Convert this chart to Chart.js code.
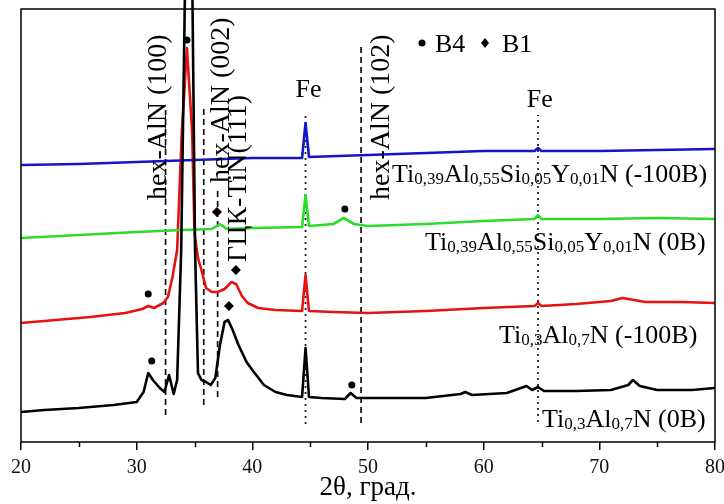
<!DOCTYPE html>
<html>
<head>
<meta charset="utf-8">
<script src="https://cdn.jsdelivr.net/npm/chart.js@4.4.1/dist/chart.umd.min.js"></script>
<style>
  html, body { margin: 0; background: #fff; }
</style>
</head>
<body>
<canvas id="xrd" width="724" height="504"></canvas>
<script>
// x ticks (2θ) and the y span (arbitrary intensity, traces are stacked)
const xTicks = [20, 30, 40, 50, 60, 70, 80];
const yMax = 433;

// Ti0,3Al0,7N (0B)
const blackX = [20, 22, 25, 28, 30, 30.6, 31.0, 31.4, 32.0, 32.4, 32.8, 33.2, 33.5, 33.85, 34.2, 34.8, 35.05, 35.3, 35.6, 36.0, 36.4, 36.8,
  37.2, 37.6, 37.9, 38.3, 38.8, 39.5, 40, 41, 42, 43, 44.3, 44.6, 44.9, 46, 48, 48.5, 49, 52, 55, 58, 58.4, 59, 62,
  63.7, 64.2, 64.7, 65.2, 68, 71, 72.5, 72.9, 73.5, 75, 78, 80];
const blackY = [30, 32, 34, 37, 40, 50, 69, 62, 54, 50, 67, 48, 62, 192, 470, 470, 192, 69, 62, 60, 57, 64,
  97, 120, 122, 112, 97, 80, 72, 57, 50, 47, 45, 94, 45, 44, 43, 49, 44, 44, 44, 48, 50, 47, 49,
  56, 52, 55, 51, 51, 52, 57, 62, 56, 52, 52, 54];

// Ti0,3Al0,7N (-100B)
const redX = [20, 23, 26, 29, 30.5, 31.0, 31.5, 32.3, 32.7, 33.1, 33.5, 33.9, 34.35, 34.8, 35.0, 35.3, 35.6, 36.0, 36.5, 37.0,
  37.6, 38.2, 38.6, 39.1, 39.6, 40.5, 42, 44.3, 44.6, 44.9, 47, 50, 55, 60, 64.4, 64.7, 65.0, 68, 71, 72, 74, 77, 80];
const redY = [119, 122, 125, 129, 133, 136, 134, 139, 145, 165, 192, 309, 394, 309, 209, 184, 172, 154, 150, 150,
  153, 160, 158, 146, 139, 134, 132, 131, 167, 131, 130, 129, 131, 134, 136, 139, 136, 138, 141, 144, 140, 140, 139];

// Ti0,39Al0,55Si0,05Y0,01N (0B)
const greenX = [20, 25, 30, 34, 36.5, 37.2, 37.8, 40, 44.3, 44.6, 44.9, 47, 47.9, 48.8, 50, 55, 60, 64.4, 64.7, 65.0, 70, 75, 80];
const greenY = [204, 207, 210, 212, 213, 218, 213, 214, 215, 247, 216, 218, 224, 218, 216, 218, 221, 223, 227, 223, 223, 224, 223];

// Ti0,39Al0,55Si0,05Y0,01N (-100B)
const blueX = [20, 25, 30, 35, 40, 44.3, 44.6, 44.9, 50, 55, 60, 64.4, 64.7, 65.0, 70, 75, 80];
const blueY = [277, 278, 280, 282, 284, 284, 319, 285, 287, 289, 291, 291, 294, 291, 291, 292, 293];

// phase markers: B4 (circle) and B1 (diamond)
const b4X = [34.35, 31.3, 31.0, 48.0, 48.6];
const b4Y = [402, 81, 148, 233, 57];
const b1X = [37.98, 38.58, 36.94];
const b1Y = [136, 172, 230];

// reference lines: dashed (AlN), dotted (Fe)
const dashX = [32.5, 35.8, 37.0, 49.4];
const dashTop = [332, 337, 255, 395];
const dashBottom = [27, 37, 45, 19];
const dotX = [44.6, 64.7];
const dotTop = [330, 327];
const dotBottom = [18, 20];

const peakLabels = ['hex-AlN (100)', 'hex-AlN (002)', 'ГЦК-TiN(111)', 'hex-AlN (102)'];
const seriesLabels = [
  [['Ti'], ['0,39', 1], ['Al'], ['0,55', 1], ['Si'], ['0,05', 1], ['Y'], ['0,01', 1], ['N (-100B)']],
  [['Ti'], ['0,39', 1], ['Al'], ['0,55', 1], ['Si'], ['0,05', 1], ['Y'], ['0,01', 1], ['N (0B)']],
  [['Ti'], ['0,3', 1], ['Al'], ['0,7', 1], ['N (-100B)']],
  [['Ti'], ['0,3', 1], ['Al'], ['0,7', 1], ['N (0B)']]
];

const SERIF = '"Liberation Serif", "Times New Roman", serif';
const pts = (xs, ys) => xs.map((x, i) => ({x, y: ys[i]}));

function trace(xs, ys, color) {
  return {data: pts(xs, ys), borderColor: color, borderWidth: 2.6, pointRadius: 0, tension: 0,
    borderJoinStyle: 'round', clip: 0, order: 1};
}

const datasets = [
  trace(blueX, blueY, '#1414c8'),
  trace(greenX, greenY, '#2bdc2b'),
  trace(redX, redY, '#e81010'),
  Object.assign(trace(blackX, blackY, '#000'), {order: 0, clip: {left: 0, top: 9, right: 0, bottom: 0}}),
  {data: pts(b4X, b4Y), showLine: false, pointStyle: 'circle', pointRadius: 3.5,
    pointBackgroundColor: '#000', pointBorderWidth: 0, order: -1},
  {data: pts(b1X, b1Y), showLine: false, pointStyle: 'rectRot', pointRadius: 5,
    pointBackgroundColor: '#000', pointBorderWidth: 0, order: -1}
];
dashX.forEach((x, i) => datasets.push({
  data: [{x, y: dashBottom[i]}, {x, y: dashTop[i]}], borderColor: '#111', borderWidth: 1.7,
  borderDash: [6, 4], pointRadius: 0, order: 5
}));
dotX.forEach((x, i) => datasets.push({
  data: [{x, y: dotBottom[i]}, {x, y: dotTop[i]}], borderColor: '#222', borderWidth: 1.8,
  borderDash: [2, 4], pointRadius: 0, order: 5
}));

// texts, frame and minor ticks
const annot = {
  id: 'annot',
  afterDraw(chart) {
    const {ctx, chartArea: a, scales: {x, y}} = chart;
    ctx.save();
    ctx.strokeStyle = '#000';
    ctx.lineWidth = 1.5;
    ctx.strokeRect(a.left, a.top, a.right - a.left, a.bottom - a.top);
    ctx.beginPath();
    for (let v = 25; v < 80; v += 10) {
      const px = Math.round(x.getPixelForValue(v)) + 0.5;
      ctx.moveTo(px, a.bottom);
      ctx.lineTo(px, a.bottom + 5);
    }
    ctx.stroke();

    ctx.fillStyle = '#000';
    ctx.textBaseline = 'alphabetic';

    // rotated peak labels: baseline x, start y
    const rot = [[32.53, 242], [37.98, 259], [39.45, 180], [51.8, 242]];
    ctx.font = '28px ' + SERIF;
    ctx.textAlign = 'left';
    peakLabels.forEach((t, i) => {
      ctx.save();
      ctx.translate(x.getPixelForValue(rot[i][0]), y.getPixelForValue(rot[i][1]));
      ctx.rotate(-Math.PI / 2);
      ctx.fillText(t, 0, 0);
      ctx.restore();
    });

    // Fe labels
    ctx.font = '26px ' + SERIF;
    ctx.textAlign = 'center';
    ctx.fillText('Fe', x.getPixelForValue(44.85), 97);
    ctx.fillText('Fe', x.getPixelForValue(64.85), 107);

    // legend
    ctx.textAlign = 'left';
    ctx.beginPath();
    ctx.arc(422, 43, 3.5, 0, Math.PI * 2);
    ctx.fill();
    ctx.fillText('B4', 435, 52);
    ctx.beginPath();
    ctx.moveTo(485, 38); ctx.lineTo(489, 43); ctx.lineTo(485, 48); ctx.lineTo(481, 43);
    ctx.closePath();
    ctx.fill();
    ctx.fillText('B1', 502, 52);

    // sample labels with subscripts
    const pos = [[392, 182], [425, 250], [499, 343], [542, 427]];
    seriesLabels.forEach((parts, i) => {
      let cx = pos[i][0];
      parts.forEach(([t, sub]) => {
        ctx.font = (sub ? '17px ' : '26px ') + SERIF;
        ctx.fillText(t, cx, pos[i][1] + (sub ? 2 : 0));
        cx += ctx.measureText(t).width;
      });
    });
    ctx.restore();
  }
};

new Chart(document.getElementById('xrd').getContext('2d'), {
  type: 'line',
  data: {datasets},
  plugins: [annot],
  options: {
    responsive: false,
    animation: false,
    devicePixelRatio: 1,
    layout: {padding: {left: 21, right: 9, top: 9, bottom: 0}},
    plugins: {legend: {display: false}, tooltip: {enabled: false}},
    scales: {
      x: {
        type: 'linear', min: 20, max: 80,
        afterBuildTicks: s => { s.ticks = xTicks.map(v => ({value: v})); },
        afterFit: s => { s.height = 62; s.paddingLeft = 0; s.paddingRight = 0; },
        grid: {drawOnChartArea: false, drawTicks: true, tickLength: 8, color: '#000', lineWidth: 1.5},
        border: {display: false},
        ticks: {color: '#111', font: {family: SERIF, size: 20}, padding: 6, maxRotation: 0},
        title: {display: true, text: '2θ, град.', color: '#000',
          font: {family: SERIF, size: 27}, padding: {top: 0, bottom: 0}}
      },
      y: {display: false, min: 0, max: yMax}
    }
  }
});
</script>
</body>
</html>
